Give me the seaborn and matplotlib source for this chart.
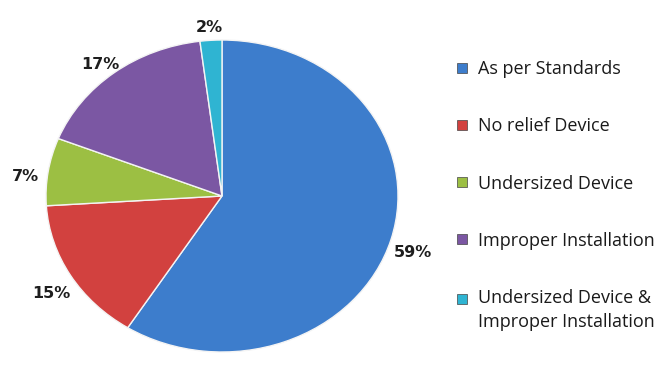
import matplotlib
matplotlib.use("Agg")
import matplotlib.pyplot as plt
import seaborn as sns
from matplotlib.lines import Line2D
from matplotlib.transforms import Affine2D

categories = ["As per Standards", "No relief Device", "Undersized Device",
              "Improper Installation", "Undersized Device &\nImproper Installation"]
values = [59, 15, 7, 17, 2]
colors = ["#3d7dcc", "#d2413f", "#9cbf43", "#7b57a3", "#2fb4d2"]

sns.set_theme(style="white")
plt.rcParams['font.family'] = ['DejaVu Sans']

fig = plt.figure(figsize=(6.65, 3.68), dpi=100)
W, H = 665, 368
ax = fig.add_axes([46 / W, (H - 352) / H, 352 / W, 312 / H])

wedges, _texts, autotexts = ax.pie(
    values, colors=colors, startangle=90, counterclock=False,
    autopct=lambda p: f"{p:.0f}%", pctdistance=1.13,
    wedgeprops=dict(edgecolor="#f4f4f4", linewidth=1.0),
    textprops=dict(fontsize=11.5, fontweight="bold", color="#1e1e1e"))
ax.set_aspect("auto")
ax.set_xlim(-1, 1)
ax.set_ylim(-1, 1)
for t in autotexts:
    x, y = t.get_position()
    t.set_position((x, y - 0.05))

handles = [Line2D([0], [0], marker="s", linestyle="none", markersize=7.5,
                  markerfacecolor=c, markeredgecolor="#444444", markeredgewidth=0.5)
           for c in colors]
leg = fig.legend(handles, categories, loc="upper left",
                 bbox_to_anchor=(439 / W, 1 - 44 / H), frameon=False,
                 handlelength=0.8, handletextpad=0.45, labelspacing=2.17,
                 prop=dict(family="Open Sans", size=13))
for t in leg.get_texts():
    t.set_color("#1a1a1a")
    t.set_linespacing(1.45)

# align the marker of the two-line entry with its first line
last = leg.legend_handles[-1]
last.set_transform(last.get_transform() + Affine2D().translate(0, 12))

fig.savefig("out.png", dpi=100)
